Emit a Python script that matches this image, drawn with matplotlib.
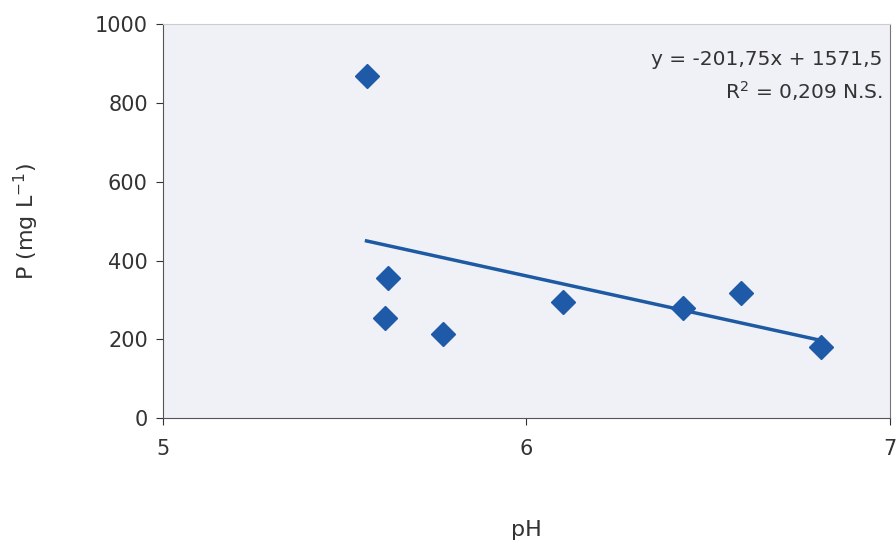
import numpy as np
import matplotlib.pyplot as plt

# data
ph = [5.56, 5.62, 5.61, 5.77, 6.10, 6.43, 6.59, 6.81]
p_conc = [868, 355, 254, 213, 294, 279, 317, 180]

# trendline given on the chart
slope = -201.75
intercept = 1571.5

fig = plt.figure(figsize=(8.96, 5.46), dpi=100)
ax = fig.add_axes([0.182, 0.234, 0.811, 0.722])
ax.set_facecolor('#f0f1f6')

xt = np.array([min(ph), max(ph)])
ax.plot(xt, slope*xt + intercept, color='#1d5aa3', lw=2.5, zorder=2)
ax.plot(ph, p_conc, 'D', color='#1f5aa8', markersize=12.5, zorder=3)

ax.set_xlim(5, 7)
ax.set_ylim(0, 1000)
ax.set_xticks([5, 6, 7])
ax.set_yticks(range(0, 1001, 200))
ax.tick_params(axis='both', labelsize=15, colors='#333333', length=5, pad=10)
ax.tick_params(axis='y', pad=6)

for s in ['left', 'bottom']:
    ax.spines[s].set_color('#555555')
ax.spines['right'].set_color('#777777')
ax.spines['top'].set_color('#cccccc')

ax.text(0.99, 0.91, 'y = -201,75x + 1571,5', transform=ax.transAxes,
        ha='right', va='center', fontsize=14.5, color='#333333')
ax.text(0.99, 0.83, 'R$^2$ = 0,209 N.S.', transform=ax.transAxes,
        ha='right', va='center', fontsize=14.5, color='#333333')

fig.text(0.03, 0.595, 'P (mg L$^{-1}$)', rotation=90, ha='center', va='center',
         fontsize=16, color='#333333')
fig.text(0.587, 0.03, 'pH', ha='center', va='center', fontsize=16, color='#333333')

fig.savefig('out.png', dpi=100)
